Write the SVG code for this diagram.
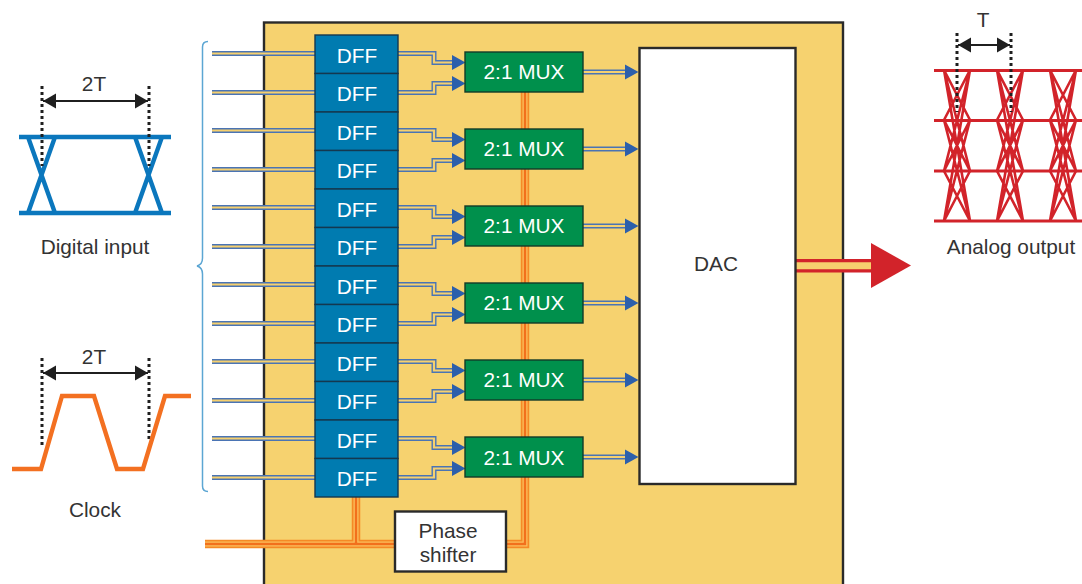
<svg xmlns="http://www.w3.org/2000/svg" xmlns:xlink="http://www.w3.org/1999/xlink" width="1082" height="584" viewBox="0 0 1082 584">
<style>
text{font-family:"Liberation Sans",Arial,sans-serif;font-size:20.8px;text-anchor:middle;fill:#333}
.dff rect{fill:#007bb0;stroke:#14384f;stroke-width:1.4}
.mux rect{fill:#00904c;stroke:#123a28;stroke-width:1.4}
.dff text,.mux text{fill:#fff}
.box{fill:#fff;stroke:#2a2a2a;stroke-width:2.4}
.wo{fill:none;stroke:#4a74b4;stroke-width:5}
.wi{fill:none;stroke:#f6d06e;stroke-width:2.2}
.a{marker-end:url(#blue)}
.c1{fill:none;stroke:#f58a26;stroke-width:8.5}
.c2{fill:none;stroke:#fbbf5c;stroke-width:5}
.c3{fill:none;stroke:#f2701c;stroke-width:2.4}
.dot{fill:none;stroke:#1f1f1f;stroke-width:3;stroke-dasharray:3 3}
.dim{fill:none;stroke:#1f1f1f;stroke-width:1.8;marker-start:url(#blackS);marker-end:url(#blackE)}
.eye{fill:none;stroke:#0b77bd;stroke-width:4.4}
.clk{fill:none;stroke:#f37021;stroke-width:4.4}
.ana{fill:none;stroke:#d2232a;stroke-width:2.6}
.anh{fill:none;stroke:#d2232a;stroke-width:2.8}
</style>
<defs>
<marker id="blue" markerUnits="userSpaceOnUse" markerWidth="14" markerHeight="18" refX="0" refY="9" orient="auto"><path d="M0 1.500L13.500 9L0 16.500Z" fill="#2c5fab"/></marker>
<marker id="blackE" markerUnits="userSpaceOnUse" markerWidth="14" markerHeight="18" refX="13" refY="9" orient="auto"><path d="M0 1.500L13 9L0 16.500Z" fill="#1f1f1f"/></marker>
<marker id="blackS" markerUnits="userSpaceOnUse" markerWidth="14" markerHeight="18" refX="1" refY="9" orient="auto"><path d="M14 1.500L1 9L14 16.500Z" fill="#1f1f1f"/></marker>
<g id="wires">
<path class="wo" d="M212 53.500H315"/><path class="wi" d="M212 53.500H315"/>
<path class="wo" d="M212 92.500H315"/><path class="wi" d="M212 92.500H315"/>
<path class="wo a" d="M398 53.500H434V62.500H452"/><path class="wi" d="M398 53.500H434V62.500H452"/>
<path class="wo a" d="M398 92.500H434V83.500H452"/><path class="wi" d="M398 92.500H434V83.500H452"/>
<path class="wo a" d="M583 72H625"/><path class="wi" d="M583 72H625"/>
</g>
<path id="x" d="M0 70L26 120M0 70L26 171M0 70L26 221M0 120L26 70M0 120L26 171M0 120L26 221M0 171L26 70M0 171L26 120M0 171L26 221M0 221L26 70M0 221L26 120M0 221L26 171"/>
</defs>

<rect id="chip" x="264" y="22.500" width="579" height="580" fill="#f6d26f" stroke="#2a2a2a" stroke-width="2.400"/>

<g id="connectors">
<use xlink:href="#wires"/>
<use xlink:href="#wires" y="77"/>
<use xlink:href="#wires" y="154"/>
<use xlink:href="#wires" y="231"/>
<use xlink:href="#wires" y="308"/>
<use xlink:href="#wires" y="385"/>
<path class="c1" d="M205 544H394M356 497V544M506 544H525V92"/>
<path class="c2" d="M205 544H394M356 497V544M506 544H525V92"/>
<path class="c3" d="M205 544H394M356 497V544M506 544H525V92"/>
<path d="M796 265.800H872" fill="none" stroke="#d2232a" stroke-width="13.500"/>
<path d="M796 265.800H872" fill="none" stroke="#f6d06e" stroke-width="7"/>
<path d="M871 243L911 265.500L871 288Z" fill="#d2232a"/>
<path d="M208 41.500C204 41.500 202.500 43 202.500 47V258C202.500 262 201 265 197 266C201 267 202.500 270 202.500 274V486C202.500 490 204 491.500 208 491.500" fill="none" stroke="#5ca6d3" stroke-width="1.500"/>
</g>

<g id="dff1" class="dff"><rect x="315" y="35" width="83" height="38.500"/><text x="357" y="63">DFF</text></g>
<g id="dff2" class="dff"><rect x="315" y="73.500" width="83" height="38.500"/><text x="357" y="101">DFF</text></g>
<g id="dff3" class="dff"><rect x="315" y="112" width="83" height="38.500"/><text x="357" y="140">DFF</text></g>
<g id="dff4" class="dff"><rect x="315" y="150.500" width="83" height="38.500"/><text x="357" y="178">DFF</text></g>
<g id="dff5" class="dff"><rect x="315" y="189" width="83" height="38.500"/><text x="357" y="217">DFF</text></g>
<g id="dff6" class="dff"><rect x="315" y="227.500" width="83" height="38.500"/><text x="357" y="255">DFF</text></g>
<g id="dff7" class="dff"><rect x="315" y="266" width="83" height="38.500"/><text x="357" y="294">DFF</text></g>
<g id="dff8" class="dff"><rect x="315" y="304.500" width="83" height="38.500"/><text x="357" y="332">DFF</text></g>
<g id="dff9" class="dff"><rect x="315" y="343" width="83" height="38.500"/><text x="357" y="371">DFF</text></g>
<g id="dff10" class="dff"><rect x="315" y="381.500" width="83" height="38.500"/><text x="357" y="409">DFF</text></g>
<g id="dff11" class="dff"><rect x="315" y="420" width="83" height="38.500"/><text x="357" y="448">DFF</text></g>
<g id="dff12" class="dff"><rect x="315" y="458.500" width="83" height="38.500"/><text x="357" y="486">DFF</text></g>

<g id="mux1" class="mux"><rect x="465" y="52" width="118" height="40"/><text x="524" y="79">2:1 MUX</text></g>
<g id="mux2" class="mux"><rect x="465" y="129" width="118" height="40"/><text x="524" y="156">2:1 MUX</text></g>
<g id="mux3" class="mux"><rect x="465" y="206" width="118" height="40"/><text x="524" y="233">2:1 MUX</text></g>
<g id="mux4" class="mux"><rect x="465" y="283" width="118" height="40"/><text x="524" y="310">2:1 MUX</text></g>
<g id="mux5" class="mux"><rect x="465" y="360" width="118" height="40"/><text x="524" y="387">2:1 MUX</text></g>
<g id="mux6" class="mux"><rect x="465" y="437" width="118" height="40"/><text x="524" y="465">2:1 MUX</text></g>

<g id="dac"><rect class="box" x="639.500" y="48" width="156" height="436"/><text x="716" y="271">DAC</text></g>
<g id="phase-shifter"><rect class="box" x="395" y="511.500" width="111" height="60"/><text x="448" y="538">Phase</text><text x="448" y="562">shifter</text></g>

<g id="digital-input">
<path class="eye" d="M19 137H171M19 213H171M28 137L55 213M55 137L28 213M135 137L162 213M162 137L135 213"/>
<path class="dot" d="M42 86V166M149 86V166"/>
<path class="dim" d="M43 101H148"/>
<text x="94" y="91">2T</text>
<text x="95" y="254">Digital input</text>
</g>

<g id="clock">
<path class="dot" d="M42 358V446M149 358V441"/>
<path class="clk" d="M12 469H41L62 396H94L117 469H143L165 396H191"/>
<path class="dim" d="M43 373H148"/>
<text x="94" y="364">2T</text>
<text x="95" y="517">Clock</text>
</g>

<g id="analog-output">
<use xlink:href="#x" x="944" class="ana"/>
<use xlink:href="#x" x="997" class="ana"/>
<use xlink:href="#x" x="1050" class="ana"/>
<path class="anh" d="M934 70.500H1082M934 120.500H1082M934 171H1082M934 221H1082"/>
<path class="dot" d="M957 33V112M1011 33V112"/>
<path class="dim" d="M958 45H1010"/>
<text x="983" y="27">T</text>
<text x="1011" y="254">Analog output</text>
</g>
</svg>
